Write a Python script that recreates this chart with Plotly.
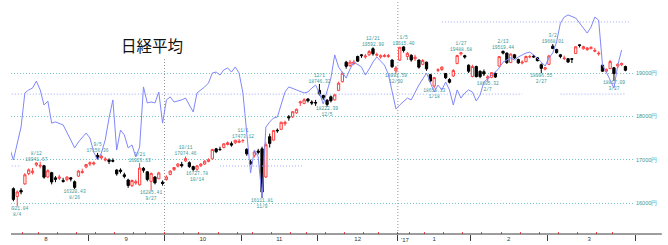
import pandas as pd
import plotly.graph_objects as go

# ---------------- calendar (Tokyo trading days) ----------------
holidays = ["2016-08-11", "2016-09-19", "2016-09-22", "2016-10-10", "2016-11-03",
            "2016-11-23", "2016-12-23", "2017-01-02", "2017-01-03", "2017-01-09", "2017-03-20"]
trading_days = [d.strftime("%Y-%m-%d") for d in pd.bdate_range("2016-08-01", "2017-03-31")
                if d.strftime("%Y-%m-%d") not in holidays]
pos = {d: i for i, d in enumerate(trading_days)}
candle_days = [d for d in trading_days if "2016-08-03" <= d <= "2017-03-30"]

# ---------------- Nikkei 225 daily OHLC ----------------
opens = [
    16330, 16150, 16290, 16440, 16680, 16700, 16880, 16850, 16860, 16600, 16700, 16580, 16570, 16520, 16540, 16580, 16490, 16620, 16700, 16830,
    16900, 16900, 17100, 17040, 16990, 16990, 16980, 16760, 16760, 16650, 16530, 16400, 16460, 16420, 16800, 16720, 16500, 16600, 16560, 16480,
    16540, 16660, 16770, 16850, 16890, 16970, 16930, 16840, 16780, 16860, 16900, 16960, 17020, 17250, 17240, 17280, 17350, 17370, 17390, 17400,
    17440, 17240, 16950, 17100, 17200, 17250, 16600, 17530, 17450, 17680, 17700, 17830, 17990, 17990, 18080, 18310, 18300, 18400, 18330, 18320,
    18600, 18480, 18370, 18450, 18380, 18600, 18800, 19250, 19170, 19220, 19380, 19420, 19370, 19420, 19560, 19410, 19370, 19380, 19380, 19300, 19050,
    19298, 19602, 19380, 19410, 19330, 19300, 19200, 19250, 18960, 18700, 19060, 19080, 18990, 18850, 18930, 19220, 19440, 19400, 19180,
    18920, 19150, 19040, 19030, 18880, 18900, 18990, 19160, 19500, 19460, 19240, 19420, 19310, 19230, 19260, 19370, 19390, 19350, 19190, 19090,
    19200, 19620, 19540, 19420, 19330, 19330, 19330, 19450, 19650, 19560, 19540, 19560, 19500, 19440, 19180, 19040, 19100, 19120, 19160, 19190, 19150,
]
highs = [
    16360, 16290, 16340, 16690, 16800, 16810, 16941.67, 16950, 16880, 16780, 16720, 16620, 16650, 16580, 16620, 16600, 16520, 16760, 16790, 16900,
    16960, 16960, 17156.36, 17120, 17060, 17030, 17030, 16780, 16800, 16700, 16560, 16540, 16540, 16923.63, 16830, 16730, 16700, 16620, 16720, 16520,
    16640, 16750, 16830, 16920, 16950, 17074.46, 16960, 16860, 16880, 16920, 16990, 17030, 17250, 17270, 17300, 17380, 17420, 17420, 17460, 17480,
    17473.12, 17260, 17000, 17200, 17250, 17300, 17400, 17600, 17680, 17720, 17880, 17900, 18030, 18120, 18180, 18360, 18420, 18420, 18370, 18380,
    18746.32, 18500, 18400, 18480, 18520, 18800, 19030, 19280, 19300, 19300, 19400, 19440, 19440, 19530, 19592.90, 19470, 19430, 19440, 19440, 19310, 19160,
    19594.16, 19615.40, 19485, 19430, 19420, 19310, 19320, 19260, 18980, 18910, 19110, 19150, 19000, 18880, 19090, 19420, 19488.68, 19420, 19200,
    19190, 19170, 19060, 19080, 18950, 19020, 19010, 19390, 19519.44, 19470, 19450, 19440, 19330, 19290, 19400, 19420, 19420, 19370, 19220, 19140,
    19420, 19668.01, 19560, 19440, 19400, 19340, 19340, 19620, 19660, 19630, 19600, 19620, 19580, 19500, 19200, 19100, 19300, 19140, 19220, 19240, 19170,
]
lows = [
    16040, 15921.04, 16200, 16420, 16640, 16660, 16840, 16800, 16560, 16580, 16430, 16480, 16530, 16470, 16500, 16500, 16320.43, 16600, 16680, 16800,
    16850, 16870, 17000, 17010, 16960, 16900, 16940, 16630, 16680, 16570, 16350, 16370, 16420, 16400, 16700, 16500, 16285.41, 16430, 16550, 16400,
    16520, 16640, 16740, 16820, 16820, 16950, 16810, 16740, 16727.78, 16830, 16880, 16940, 17000, 17150, 17200, 17260, 17330, 17300, 17360, 17380,
    17390, 17090, 16880, 17050, 17120, 16111.81, 16580, 17280, 17440, 17620, 17680, 17780, 17900, 17960, 18060, 18240, 18280, 18320, 18260, 18240,
    18480, 18380, 18222.39, 18320, 18360, 18580, 18780, 19100, 19140, 19180, 19260, 19350, 19330, 19390, 19400, 19380, 19330, 19360, 19350, 19120, 18991.59,
    19277, 19473, 19300, 19260, 19280, 19100, 19180, 19050, 18780, 18650.33, 19020, 19050, 18860, 18760, 18910, 19200, 19400, 19330, 19000,
    18900, 18900, 18880, 18930, 18805.32, 18880, 18890, 19150, 19430, 19210, 19230, 19330, 19210, 19200, 19250, 19340, 19350, 19270, 18996.55, 19060,
    19180, 19550, 19450, 19340, 19300, 19230, 19230, 19440, 19590, 19540, 19510, 19550, 19480, 19400, 19030, 19000, 19090, 18817.09, 19110, 19160, 19040,
]
closes = [
    16083.11, 16254.45, 16254.89, 16650.57, 16764.97, 16735.12, 16919.92, 16869.56, 16596.51, 16745.64, 16486.01, 16545.82, 16598.19, 16497.36, 16597.30, 16555.95, 16360.71, 16737.49, 16725.36, 16887.40,
    16926.84, 16925.68, 17037.63, 17081.98, 17012.44, 16958.77, 16965.76, 16672.92, 16729.04, 16614.24, 16405.01, 16519.29, 16492.15, 16807.62, 16754.02, 16544.56, 16683.93, 16465.40, 16693.71, 16449.84,
    16598.67, 16735.65, 16819.24, 16899.10, 16860.09, 17024.76, 16840.00, 16774.24, 16856.37, 16900.12, 16963.61, 16998.91, 17235.02, 17184.59, 17234.42, 17365.25, 17391.84, 17336.42, 17446.41, 17425.02,
    17442.40, 17134.68, 16905.36, 17177.21, 17171.38, 16251.54, 17344.42, 17374.79, 17672.62, 17668.15, 17862.21, 17862.63, 17967.41, 18106.02, 18162.94, 18333.41, 18381.22, 18356.89, 18307.04, 18308.48,
    18513.12, 18426.08, 18274.99, 18360.54, 18496.69, 18765.47, 18996.37, 19155.03, 19250.52, 19253.61, 19273.79, 19401.15, 19391.60, 19494.53, 19444.49, 19427.67, 19396.64, 19403.06, 19401.72, 19145.14, 19114.37,
    19594.16, 19520.69, 19454.33, 19301.44, 19364.67, 19134.70, 19287.28, 19095.24, 18813.53, 18894.37, 19072.25, 19137.91, 18891.03, 18787.99, 19057.50, 19402.39, 19467.40, 19368.85, 19041.34,
    19148.08, 18914.58, 18918.20, 18976.71, 18910.78, 19007.60, 18907.67, 19378.93, 19459.15, 19238.98, 19437.98, 19347.53, 19234.62, 19251.08, 19381.44, 19379.87, 19371.46, 19283.54, 19107.47, 19118.99,
    19393.54, 19564.80, 19469.17, 19379.14, 19344.15, 19254.03, 19318.58, 19604.61, 19633.75, 19609.50, 19577.38, 19590.14, 19521.59, 19455.88, 19041.38, 19085.31, 19262.53, 18985.59, 19202.87, 19217.48, 19063.22,
]
assert len(opens) == len(highs) == len(lows) == len(closes) == len(candle_days)

# dates whose high / low is labelled on the chart
high_label_days = ["2016-08-12", "2016-09-05", "2016-09-21", "2016-10-11", "2016-11-01", "2016-12-01",
                   "2016-12-21", "2017-01-05", "2017-01-27", "2017-02-13", "2017-03-02"]
low_label_days = ["2016-08-04", "2016-08-26", "2016-09-27", "2016-10-14", "2016-11-09", "2016-12-05",
                  "2016-12-30", "2017-01-18", "2017-02-07", "2017-02-27", "2017-03-27"]

# ---------------- blue indicator line (own 0-100 scale) ----------------
blue_days = [
    "2016-08-02", "2016-08-03", "2016-08-05", "2016-08-08", "2016-08-09", "2016-08-10", "2016-08-12", "2016-08-15", "2016-08-16", "2016-08-17", "2016-08-18", "2016-08-19", "2016-08-23", "2016-08-24", "2016-08-25", "2016-08-26", "2016-08-29", "2016-08-31",
    "2016-09-01", "2016-09-02", "2016-09-05", "2016-09-06", "2016-09-07", "2016-09-08", "2016-09-09", "2016-09-12", "2016-09-13", "2016-09-14", "2016-09-15", "2016-09-16", "2016-09-20", "2016-09-21", "2016-09-23", "2016-09-26", "2016-09-27", "2016-09-28", "2016-09-29", "2016-09-30",
    "2016-10-03", "2016-10-04", "2016-10-05", "2016-10-07", "2016-10-11", "2016-10-13", "2016-10-14", "2016-10-18", "2016-10-19", "2016-10-20", "2016-10-21", "2016-10-24", "2016-10-25", "2016-10-26", "2016-10-27", "2016-10-28", "2016-10-31",
    "2016-11-01", "2016-11-02", "2016-11-04", "2016-11-07", "2016-11-08", "2016-11-09", "2016-11-10", "2016-11-11", "2016-11-14", "2016-11-15", "2016-11-17", "2016-11-18", "2016-11-21", "2016-11-22", "2016-11-25", "2016-11-28", "2016-11-29", "2016-11-30",
    "2016-12-01", "2016-12-02", "2016-12-06", "2016-12-07", "2016-12-08", "2016-12-12", "2016-12-13", "2016-12-14", "2016-12-16", "2016-12-19", "2016-12-20", "2016-12-21", "2016-12-22", "2016-12-27", "2016-12-28", "2016-12-29", "2016-12-30",
    "2017-01-04", "2017-01-06", "2017-01-10", "2017-01-11", "2017-01-12", "2017-01-16", "2017-01-17", "2017-01-18", "2017-01-19", "2017-01-20", "2017-01-23", "2017-01-24", "2017-01-25", "2017-01-26", "2017-01-27", "2017-01-30", "2017-01-31",
    "2017-02-01", "2017-02-02", "2017-02-03", "2017-02-06", "2017-02-08", "2017-02-09", "2017-02-10", "2017-02-13", "2017-02-15", "2017-02-16", "2017-02-17", "2017-02-21", "2017-02-22", "2017-02-23", "2017-02-27", "2017-02-28",
    "2017-03-01", "2017-03-02", "2017-03-03", "2017-03-06", "2017-03-07", "2017-03-08", "2017-03-10", "2017-03-14", "2017-03-15", "2017-03-16", "2017-03-17", "2017-03-21", "2017-03-22", "2017-03-23", "2017-03-24", "2017-03-27", "2017-03-28", "2017-03-29",
]
blue_vals = [
    37.1, 31.9, 46.1, 60.8, 62.1, 62.9, 65.9, 62.1, 55.6, 57.3, 47.8, 48.3, 47.0, 44.0, 40.5, 37.1, 39.7, 43.5,
    41.4, 35.3, 31.9, 34.9, 40.5, 50.0, 57.8, 36.2, 44.8, 42.7, 37.1, 38.4, 33.2, 37.5, 63.4, 56.5, 56.9, 56.5, 61.2, 47.8,
    57.8, 59.1, 56.9, 57.8, 58.6, 52.6, 60.8, 63.4, 65.1, 69.4, 69.8, 68.5, 70.7, 71.6, 69.8, 72.0, 69.4,
    60.8, 44.8, 26.3, 36.2, 33.2, 15.5, 46.1, 48.3, 50.0, 50.4, 61.2, 63.4, 62.9, 62.1, 60.8, 61.2, 62.9, 64.2,
    60.8, 56.0, 67.2, 77.2, 72.0, 67.2, 71.1, 74.1, 72.0, 68.5, 71.1, 74.1, 76.3, 72.8, 69.0, 60.8, 53.9,
    55.6, 58.6, 57.8, 60.8, 64.2, 69.4, 65.5, 61.2, 64.2, 62.1, 65.5, 62.1, 55.6, 62.1, 58.6, 60.8, 62.1,
    61.2, 57.3, 59.9, 65.5, 68.1, 69.8, 71.6, 74.1, 75.9, 75.0, 76.3, 78.0, 78.4, 77.2, 74.1, 72.4,
    75.9, 78.0, 82.8, 90.9, 93.5, 94.4, 93.1, 88.8, 86.6, 89.2, 93.5, 92.2, 72.8, 69.8, 66.4, 62.9, 72.8, 79.3,
]
assert len(blue_days) == len(blue_vals)

# dotted reference levels of the indicator
ref_levels = [60.3, 60.3, 29.3, 29.3, 91.4]
ref_from = ["2016-08-01", "2017-03-06", "2016-08-01", "2016-10-24", "2017-01-20"]
ref_to = ["2017-02-20", "2017-03-30", "2016-08-05", "2016-11-25", "2017-03-31"]

# vertical dotted markers (period starts)
marker_days = ["2016-10-03", "2017-01-04"]

price_ticks = [16000, 17000, 18000, 19000]
month_text = ["8", "9", "10", "11", "12", "1", "2", "3"]

# ---------------- derived axis positions ----------------
months = {}
for d, i in pos.items():
    months.setdefault(d[:7], []).append(i)
month_keys = sorted(months)
month_mid = [(months[k][0] + months[k][-1]) / 2 for k in month_keys]
x_range = [1.37, 164.5]
month_bounds = [months[k][0] - 0.5 for k in month_keys[1:]] + [x_range[1]]
wd = [pd.Timestamp(d).weekday() for d in trading_days]
week_bounds = [i - 0.5 for i in range(1, len(wd)) if wd[i] < wd[i - 1]]

TEAL = "rgb(56,152,152)"
RED = "rgb(255,64,64)"
BLUE = "rgb(128,136,250)"

fig = go.Figure()

# reference dotted levels
rx, ry = [], []
for lv, a, b in zip(ref_levels, ref_from, ref_to):
    rx += [pos[a], pos[b], None]
    ry += [lv, lv, None]
fig.add_trace(go.Scatter(x=rx, y=ry, mode="lines", xaxis="x2", yaxis="y2",
                         line=dict(color="rgb(160,168,255)", width=1, dash="1px,2px"),
                         hoverinfo="skip", showlegend=False))

# indicator line
fig.add_trace(go.Scatter(x=[pos[d] for d in blue_days], y=blue_vals, mode="lines",
                         xaxis="x2", yaxis="y2", line=dict(color=BLUE, width=1),
                         showlegend=False))

# candles
fig.add_trace(go.Candlestick(
    x=[pos[d] for d in candle_days], open=opens, high=highs, low=lows, close=closes,
    whiskerwidth=0,
    increasing=dict(line=dict(color=RED, width=1), fillcolor="white"),
    decreasing=dict(line=dict(color="black", width=1), fillcolor="black"),
    showlegend=False))


def md(d):
    return f"{int(d[5:7])}/{int(d[8:10])}"


hi_v = [highs[candle_days.index(d)] for d in high_label_days]
lo_v = [lows[candle_days.index(d)] for d in low_label_days]
label_font = dict(family="Liberation Mono", size=4.6, color=TEAL)
fig.add_trace(go.Scatter(x=[pos[d] for d in high_label_days], y=hi_v, mode="text",
                         text=[f"{md(d)}<br>{v:.2f}" for d, v in zip(high_label_days, hi_v)],
                         textposition="top center", textfont=label_font, cliponaxis=True,
                         hoverinfo="skip", showlegend=False))
fig.add_trace(go.Scatter(x=[pos[d] for d in low_label_days], y=lo_v, mode="text",
                         text=[f"{v:.2f}<br>{md(d)}" for d, v in zip(low_label_days, lo_v)],
                         textposition="bottom center", textfont=label_font, cliponaxis=True,
                         hoverinfo="skip", showlegend=False))

shapes = []
# period marker lines
for k, d in enumerate(marker_days):
    shapes.append(dict(type="line", xref="x", yref="paper", x0=pos[d] - 0.5, x1=pos[d] - 0.5,
                       y0=0, y1=(0.78 if k == 0 else 1.0),
                       line=dict(color="rgb(150,150,150)", width=1, dash="1px,2px"), layer="below"))
# base line of the time axis (continues past the plot)
shapes.append(dict(type="line", xref="paper", yref="paper", x0=0, x1=1.043, y0=0, y1=0,
                   line=dict(color="rgb(60,60,60)", width=1)))

annotations = [
    dict(text="日経平均", xref="paper", yref="paper", x=0.226, y=0.815, xanchor="center",
         yanchor="middle", showarrow=False,
         font=dict(family="Noto Sans CJK JP", size=15.5, color="#111"), bgcolor="white"),
    dict(text="'17", xref="x", yref="paper", x=pos["2017-01-04"] - 0.3, y=0, xanchor="left",
         yanchor="top", yshift=-1, showarrow=False,
         font=dict(family="Liberation Sans", size=6, color="#333")),
]

fig.update_layout(
    width=668, height=245,
    margin=dict(l=11, r=33, t=2, b=11),
    paper_bgcolor="white", plot_bgcolor="white",
    boxgap=0.15,
    shapes=shapes, annotations=annotations,
    xaxis=dict(range=x_range, tickmode="array", tickvals=month_mid, ticktext=month_text,
               ticks="", showgrid=False, zeroline=False, showline=False,
               tickfont=dict(family="Liberation Sans", size=6, color="#333"),
               rangeslider=dict(visible=False),
               minor=dict(tickmode="array", tickvals=week_bounds, ticks="inside", ticklen=2,
                          tickwidth=1, tickcolor=RED, showgrid=False)),
    xaxis2=dict(range=x_range, overlaying="x", anchor="y", side="bottom",
                tickmode="array", tickvals=month_bounds, ticks="outside", ticklen=6,
                tickwidth=1, tickcolor="rgb(60,60,60)", showticklabels=False,
                showgrid=False, zeroline=False, showline=False),
    yaxis=dict(range=[15284.6, 20638.5], side="right", tickmode="array", tickvals=price_ticks,
               ticktext=[f"{v}円" for v in price_ticks], ticks="", showgrid=True,
               gridcolor="rgb(120,196,196)", griddash="1px,2px", gridwidth=1,
               zeroline=False, showline=False,
               tickfont=dict(family="Liberation Sans", size=5.5, color=TEAL)),
    yaxis2=dict(range=[0, 100], overlaying="y", anchor="x2", visible=False,
                showgrid=False, zeroline=False),
    showlegend=False,
)

fig.write_html("out.html")
